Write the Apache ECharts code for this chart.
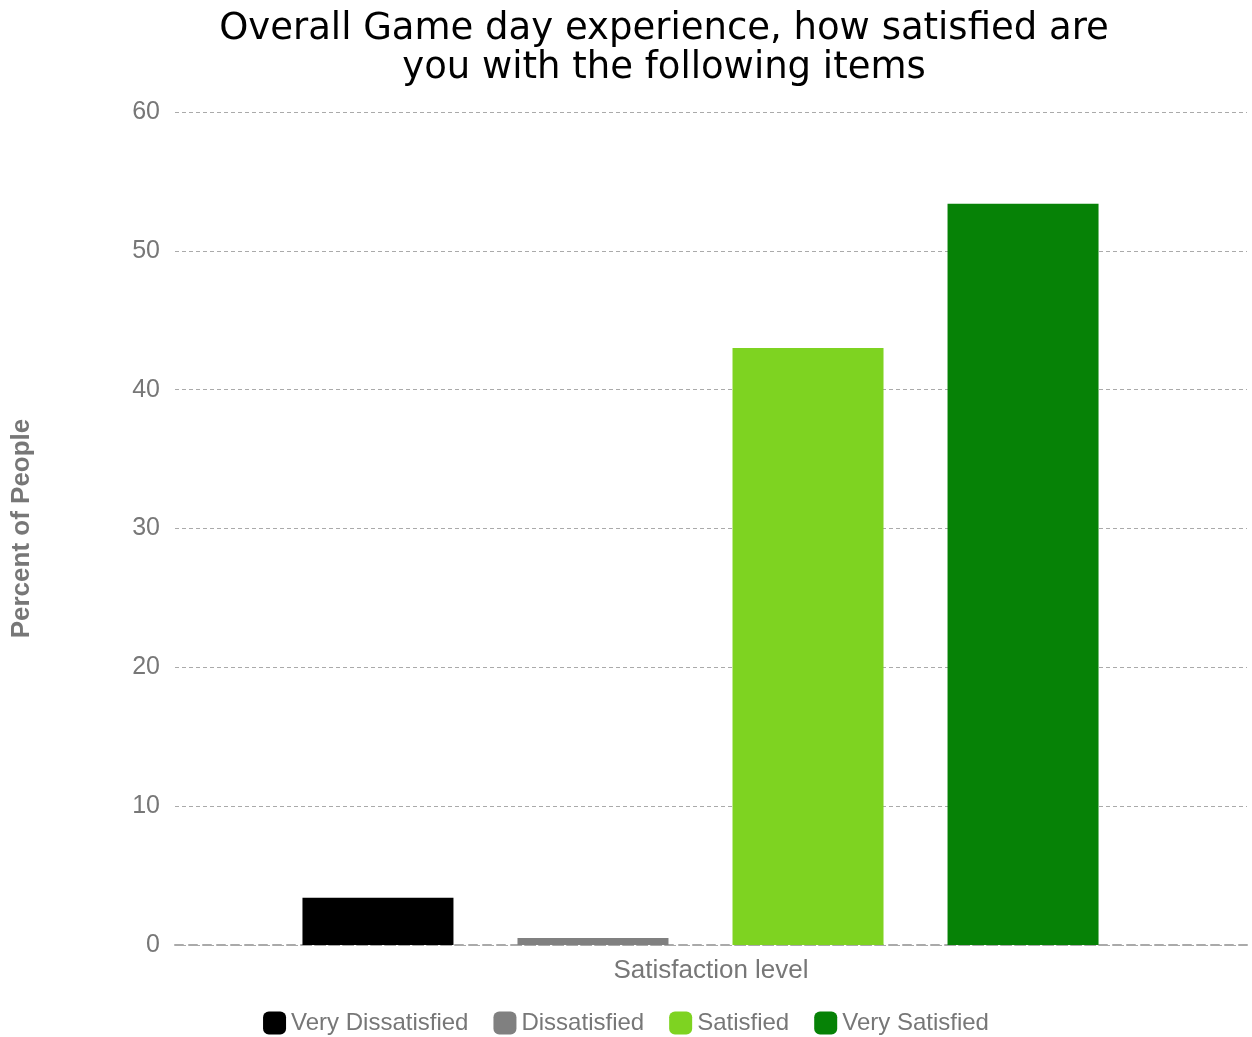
<!DOCTYPE html>
<html>
<head>
<meta charset="utf-8">
<script src="https://cdn.jsdelivr.net/npm/echarts@6/dist/echarts.min.js"></script>
<style>
  html, body { margin: 0; padding: 0; background: #fff; }
  #chart { width: 1252px; height: 1037px; }
</style>
</head>
<body>
<div id="chart"></div>
<script>
// Satisfaction levels and their share of respondents (%)
const seriesNames = ['Very Dissatisfied', 'Dissatisfied', 'Satisfied', 'Very Satisfied'];
const seriesValues = [3.4, 0.5, 43.0, 53.4];
const seriesColors = ['#000000', '#808080', '#7ED321', '#068206'];
const categories = ['Satisfaction level'];
const yTicks = [0, 10, 20, 30, 40, 50, 60];

const gray = '#777777';
const font = '"Liberation Sans", Arial, sans-serif';

const chart = echarts.init(document.getElementById('chart'));

const series = seriesNames.map((name, i) => ({
  name: name,
  type: 'bar',
  xAxisIndex: 1,
  yAxisIndex: 1,
  barWidth: 151,
  barGap: '42.4%',
  itemStyle: { color: seriesColors[i] },
  data: [seriesValues[i]]
}));

chart.setOption({
  animation: false,
  backgroundColor: '#ffffff',
  title: {
    text: 'Overall Game day experience, how satisfied are\nyou with the following items',
    left: 659,
    textAlign: 'center',
    top: 5,
    textStyle: {
      fontFamily: '"DejaVu Sans", "Open Sans", sans-serif',
      fontWeight: 'normal',
      fontSize: 37,
      lineHeight: 39,
      color: '#000000'
    }
  },
  legend: {
    data: seriesNames,
    top: 1011,
    padding: 0,
    left: 'center',
    itemWidth: 23,
    itemHeight: 23,
    itemGap: 25,
    icon: 'roundRect',
    textStyle: { fontFamily: font, fontSize: 24, color: gray }
  },
  grid: [
    { left: 175, right: 5, top: 112, bottom: 92 },
    { left: 175, right: 26, top: 112, bottom: 92 }
  ],
  xAxis: [
    {
      type: 'category',
      gridIndex: 0,
      data: categories,
      name: categories[0],
      nameLocation: 'middle',
      nameGap: 13,
      nameTextStyle: { fontFamily: font, fontSize: 26, color: gray },
      axisLine: { show: true, lineStyle: { color: '#aaaaaa', type: [8, 6], width: 2 } },
      axisTick: { show: false },
      axisLabel: { show: false }
    },
    {
      type: 'category',
      gridIndex: 1,
      data: categories,
      show: false
    }
  ],
  yAxis: [
    {
      type: 'value',
      gridIndex: 0,
      min: 0,
      max: 60,
      interval: 10,
      name: 'Percent of People',
      nameLocation: 'middle',
      nameGap: 140,
      nameTextStyle: { fontFamily: font, fontSize: 26, fontWeight: 'bold', color: gray },
      axisLine: { show: false },
      axisTick: { show: false },
      axisLabel: {
        margin: 15,
        fontFamily: font,
        fontSize: 25,
        color: gray,
        formatter: v => (yTicks.indexOf(v) >= 0 ? String(v) : '')
      },
      splitLine: { show: true, lineStyle: { color: '#aaaaaa', type: [4, 3], width: 1 } }
    },
    {
      type: 'value',
      gridIndex: 1,
      min: 0,
      max: 60,
      interval: 10,
      show: false,
      splitLine: { show: false }
    }
  ],
  series: series
});
</script>
</body>
</html>
